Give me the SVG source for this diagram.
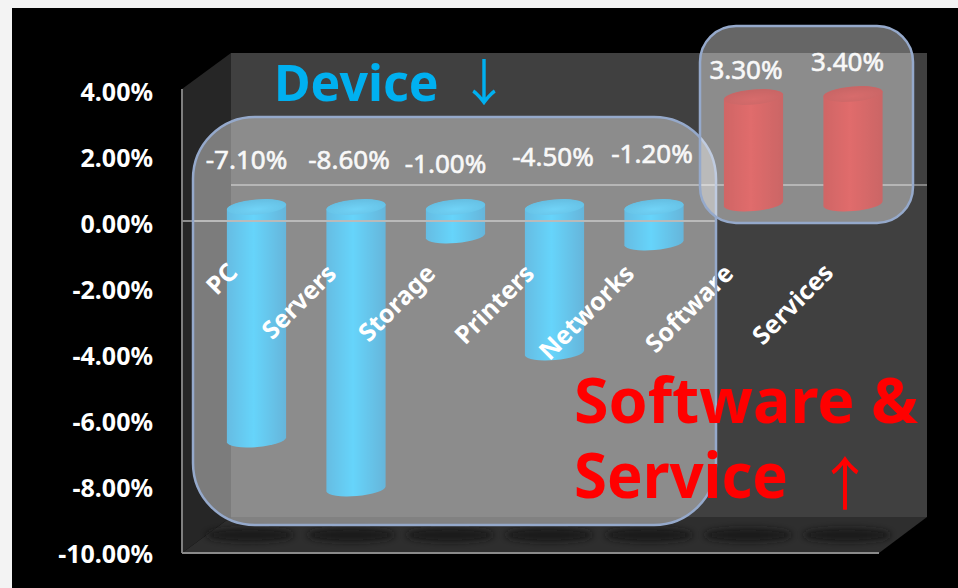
<svg xmlns="http://www.w3.org/2000/svg" width="958" height="588" viewBox="0 0 958 588">
<defs>
  <linearGradient id="gBlue" x1="0" y1="0" x2="1" y2="0">
    <stop offset="0" stop-color="#0090d0"/>
    <stop offset="0.45" stop-color="#00b8f8"/>
    <stop offset="1" stop-color="#0084c2"/>
  </linearGradient>
  <radialGradient id="gBlueTop" cx="0.5" cy="0.65" r="0.6">
    <stop offset="0" stop-color="#12b6f2"/>
    <stop offset="1" stop-color="#0096d2"/>
  </radialGradient>
  <linearGradient id="gRed" x1="0" y1="0" x2="1" y2="0">
    <stop offset="0" stop-color="#b00000"/>
    <stop offset="0.45" stop-color="#cc0a0a"/>
    <stop offset="1" stop-color="#a80000"/>
  </linearGradient>
  <radialGradient id="gRedTop" cx="0.5" cy="0.65" r="0.6">
    <stop offset="0" stop-color="#bd0a0a"/>
    <stop offset="1" stop-color="#a40000"/>
  </radialGradient>
  <filter id="soft" x="-30%" y="-100%" width="160%" height="300%"><feGaussianBlur stdDeviation="3"/></filter>
</defs>
<style>
  text{font-family:"Noto Sans","Open Sans","DejaVu Sans",sans-serif}
  .ax{font-weight:bold;font-size:25px;fill:#ffffff;text-anchor:end}
  .dl{font-size:26px;fill:#f4f4f4;stroke:#f4f4f4;stroke-width:0.6;text-anchor:middle}
  .cat{font-weight:bold;font-size:25px;fill:#ffffff;text-anchor:end}
  .cyl-b{fill:url(#gBlue)}
  .top-b{fill:url(#gBlueTop)}
  .cyl-r{fill:url(#gRed)}
  .top-r{fill:url(#gRedTop)}
  .shadow{fill:#161616;opacity:0.8;filter:url(#soft)}
  .box{fill:#ffffff;fill-opacity:0.4;stroke:#95a9cb;stroke-width:2.5}
  .arrow{font-family:"Noto Sans CJK KR","DejaVu Sans",sans-serif;font-weight:normal}
</style>

<rect x="0" y="0" width="958" height="588" fill="#f3f3f3"/>
<rect x="12" y="8" width="946" height="580" fill="#000000"/>

<g id="chart-frame">
  <rect x="231" y="53" width="696" height="464" fill="#404040"/>
  <polygon points="182,89 231,53 231,517 182,553" fill="#262626"/>
  <polygon points="182,553 231,517 927,517 879,553" fill="#2e2e2e"/>
  <ellipse class="shadow" cx="250" cy="535" rx="44" ry="7"/>
  <ellipse class="shadow" cx="351" cy="535" rx="44" ry="7"/>
  <ellipse class="shadow" cx="450" cy="535" rx="44" ry="7"/>
  <ellipse class="shadow" cx="549" cy="535" rx="44" ry="7"/>
  <ellipse class="shadow" cx="649" cy="535" rx="44" ry="7"/>
  <ellipse class="shadow" cx="748" cy="535" rx="44" ry="7"/>
  <ellipse class="shadow" cx="847" cy="535" rx="44" ry="7"/>
  <line x1="231" y1="185" x2="927" y2="185" stroke="#858585" stroke-width="2"/>
  <line x1="182" y1="89" x2="182" y2="553" stroke="#7f7f7f" stroke-width="2"/>
  <line x1="182" y1="553" x2="879" y2="553" stroke="#8a8a8a" stroke-width="2"/>
</g>

<g id="axis-labels">
  <text class="ax" x="153" y="101">4.00%</text>
  <text class="ax" x="153" y="167">2.00%</text>
  <text class="ax" x="153" y="233">0.00%</text>
  <text class="ax" x="153" y="299">-2.00%</text>
  <text class="ax" x="153" y="365">-4.00%</text>
  <text class="ax" x="153" y="431">-6.00%</text>
  <text class="ax" x="153" y="497">-8.00%</text>
  <text class="ax" x="153" y="563">-10.00%</text>
</g>

<g id="bar-pc">
  <path class="cyl-b" d="M226.9,209.6 L226.9,442.6 A29.75,7.5 -5 0 0 286.1,437.4 L286.1,204.4 A29.75,7.5 -5 0 0 226.9,209.6 Z"/>
  <ellipse class="top-b" cx="256.5" cy="207" rx="29.75" ry="7.5" transform="rotate(-5 256.5 207)"/>
</g>
<g id="bar-servers">
  <path class="cyl-b" d="M326.4,209.6 L326.4,491.6 A29.75,7.5 -5 0 0 385.6,486.4 L385.6,204.4 A29.75,7.5 -5 0 0 326.4,209.6 Z"/>
  <ellipse class="top-b" cx="356" cy="207" rx="29.75" ry="7.5" transform="rotate(-5 356 207)"/>
</g>
<g id="bar-storage">
  <path class="cyl-b" d="M425.9,209.6 L425.9,238.6 A29.75,7.5 -5 0 0 485.1,233.4 L485.1,204.4 A29.75,7.5 -5 0 0 425.9,209.6 Z"/>
  <ellipse class="top-b" cx="455.5" cy="207" rx="29.75" ry="7.5" transform="rotate(-5 455.5 207)"/>
</g>
<g id="bar-printers">
  <path class="cyl-b" d="M524.9,209.6 L524.9,355.6 A29.75,7.5 -5 0 0 584.1,350.4 L584.1,204.4 A29.75,7.5 -5 0 0 524.9,209.6 Z"/>
  <ellipse class="top-b" cx="554.5" cy="207" rx="29.75" ry="7.5" transform="rotate(-5 554.5 207)"/>
</g>
<g id="bar-networks">
  <path class="cyl-b" d="M624.4,209.6 L624.4,245.6 A29.75,7.5 -5 0 0 683.6,240.4 L683.6,204.4 A29.75,7.5 -5 0 0 624.4,209.6 Z"/>
  <ellipse class="top-b" cx="654" cy="207" rx="29.75" ry="7.5" transform="rotate(-5 654 207)"/>
</g>
<g id="bar-software">
  <path class="cyl-r" d="M723.9,99.6 L723.9,206.6 A29.75,7.5 -5 0 0 783.1,201.4 L783.1,94.4 A29.75,7.5 -5 0 0 723.9,99.6 Z"/>
  <ellipse class="top-r" cx="753.5" cy="97" rx="29.75" ry="7.5" transform="rotate(-5 753.5 97)"/>
</g>
<g id="bar-services">
  <path class="cyl-r" d="M823.4,96.6 L823.4,206.6 A29.75,7.5 -5 0 0 882.6,201.4 L882.6,91.4 A29.75,7.5 -5 0 0 823.4,96.6 Z"/>
  <ellipse class="top-r" cx="853" cy="94" rx="29.75" ry="7.5" transform="rotate(-5 853 94)"/>
</g>

<line id="zero-line" x1="182" y1="221" x2="715" y2="221" stroke="#8c8c8c" stroke-width="2"/>

<g id="category-labels">
  <text class="cat" transform="translate(239,274) rotate(-45)">PC</text>
  <text class="cat" transform="translate(338,275) rotate(-45)">Servers</text>
  <text class="cat" transform="translate(437,275) rotate(-45)">Storage</text>
  <text class="cat" transform="translate(536,275) rotate(-45)">Printers</text>
  <text class="cat" transform="translate(636,275) rotate(-45)">Networks</text>
  <text class="cat" transform="translate(735,275) rotate(-45)">Software</text>
  <text class="cat" transform="translate(835,274) rotate(-45)">Services</text>
</g>

<g id="data-labels">
  <text class="dl" x="246.5" y="169">-7.10%</text>
  <text class="dl" x="349" y="169">-8.60%</text>
  <text class="dl" x="445.5" y="173">-1.00%</text>
  <text class="dl" x="553" y="166">-4.50%</text>
  <text class="dl" x="652" y="163">-1.20%</text>
  <text class="dl" x="746" y="79">3.30%</text>
  <text class="dl" x="847.5" y="71">3.40%</text>
</g>

<g id="device-box">
  <rect class="box" x="193" y="117" width="523" height="408" rx="62" ry="62"/>
</g>
<g id="sw-box">
  <rect class="box" x="700" y="26" width="213" height="197" rx="36" ry="36"/>
</g>

<g id="title-device">
  <text x="274" y="101" font-size="50" font-weight="bold" fill="#00b0f0">Device <tspan class="arrow" x="459">↓</tspan></text>
</g>
<g id="title-sw">
  <text font-size="62" font-weight="bold" fill="#ff0000"><tspan x="574" y="423" textLength="344" lengthAdjust="spacingAndGlyphs">Software &amp;</tspan><tspan x="574" y="498" textLength="214" lengthAdjust="spacingAndGlyphs">Service</tspan> <tspan class="arrow" x="816" y="505" font-size="58">↑</tspan></text>
</g>
</svg>
